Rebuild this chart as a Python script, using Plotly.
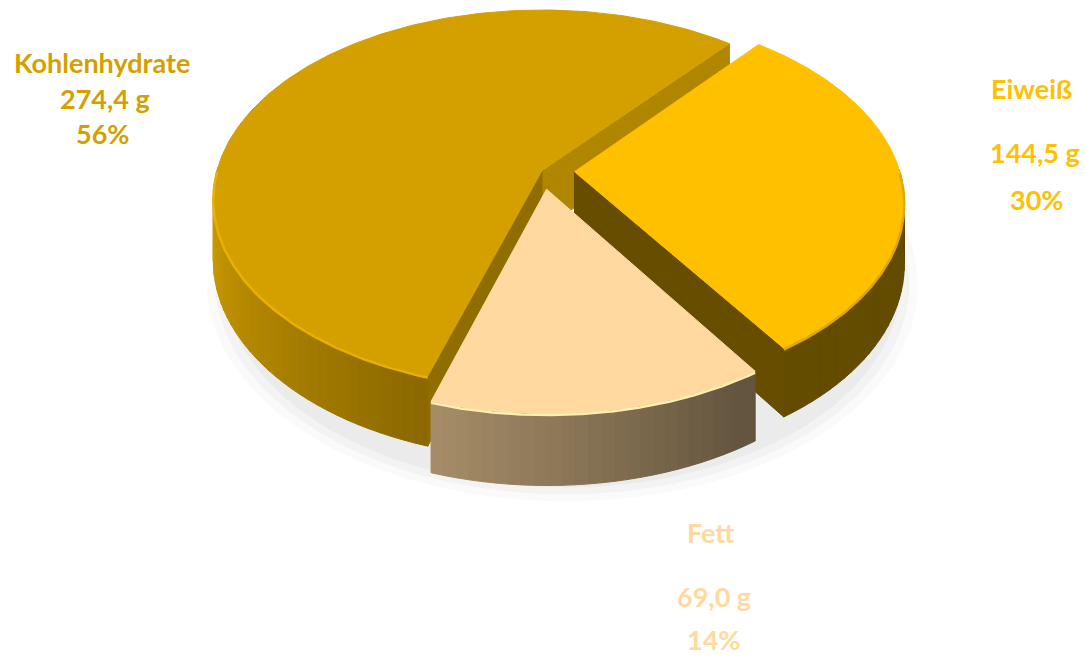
import numpy as np
import plotly.graph_objects as go

# ---------------- data ----------------
categories = ["Eiweiß", "Fett", "Kohlenhydrate"]
values = [144.5, 69.0, 274.4]
unit = "g"

# ---------------- style ----------------
top_rgb = {"Eiweiß": (255, 192, 0), "Fett": (255, 217, 160), "Kohlenhydrate": (212, 160, 0)}
label_color = {"Eiweiß": "#FFC000", "Fett": "#FFD9A0", "Kohlenhydrate": "#D4A000"}
explode = {"Eiweiß": 0.10, "Fett": 0.10, "Kohlenhydrate": 0.0}
radial_shade = {"Eiweiß": 0.40, "Fett": 0.60, "Kohlenhydrate": None}
rim_shade = {"Eiweiß": 0.88, "Fett": 1.10, "Kohlenhydrate": 1.10}

start_deg = 50.0
cx, cy = 542.0, 170.6
A, B = 184.7, 325.0      # vertical / horizontal radius in screen
k = 0.15                 # perspective strength
D = 60.0                 # thickness
W, H = 1086, 657


def proj(u, v, z):
    w = 1 + k * np.asarray(v)
    return cx + B * np.asarray(u) / w, cy - A * np.asarray(v) / w + D * z / w


def rgb(c, s=1.0):
    return "rgb(%d,%d,%d)" % tuple(int(max(0, min(255, round(x * s)))) for x in c)


def side_shade(phi_deg):
    t = ((phi_deg % 360) - 180) / 180.0
    t = min(max(t, 0.0), 1.0)
    return max(0.39, 1 - 0.95 * t ** 1.1)


total = sum(values)
slices = []
cum = 0.0
for name, val in zip(categories, values):
    a0 = start_deg - 360 * cum / total
    a1 = a0 - 360 * val / total
    cum += val
    mid = np.radians((a0 + a1) / 2)
    e = explode[name]
    slices.append(dict(name=name, val=val, a0=a0, a1=a1,
                       du=e * np.cos(mid), dv=e * np.sin(mid)))

side_faces = []   # (depth_key, xs, ys, color)
top_faces = []
rims = []

for s in slices:
    name, a0, a1, du, dv = s["name"], s["a0"], s["a1"], s["du"], s["dv"]
    col = top_rgb[name]
    # top face
    ang = np.radians(np.linspace(a0, a1, 200))
    u = np.concatenate([[du], du + np.cos(ang), [du]])
    v = np.concatenate([[dv], dv + np.sin(ang), [dv]])
    x, y = proj(u, v, 0)
    top_faces.append((x, y, rgb(col)))

    # front rim highlight
    fa = np.linspace(a1, a0, 300)
    fa = fa[np.sin(np.radians(fa)) < 0]
    if len(fa) > 1:
        rx, ry = proj(du + np.cos(np.radians(fa)), dv + np.sin(np.radians(fa)), 0.02)
        rims.append((rx, ry, rgb(col, rim_shade[name])))

    # curved side: small quads where facing the viewer
    step = 2.0
    n = max(2, int(np.ceil((a0 - a1) / step)))
    edges = np.linspace(a1, a0, n + 1)
    for p, q in zip(edges[:-1], edges[1:]):
        m = (p + q) / 2
        if np.sin(np.radians(m)) >= 0:
            continue
        aa = np.radians(np.linspace(p, q, 4))
        uu = du + np.cos(aa)
        vv = dv + np.sin(aa)
        xt, yt = proj(uu, vv, 0)
        xb, yb = proj(uu[::-1], vv[::-1], 1)
        xs = np.concatenate([xt, xb, xt[:1]])
        ys = np.concatenate([yt, yb, yt[:1]])
        c = rgb(col, side_shade(m))
        side_faces.append((np.mean(vv), xs, ys, c))

    # radial faces
    for theta, sign in ((a0, +1), (a1, -1)):
        nrm = np.radians(theta + sign * 90)
        if np.sin(nrm) >= 0:
            continue
        t = np.radians(theta)
        uu = np.array([du, du + np.cos(t)])
        vv = np.array([dv, dv + np.sin(t)])
        xt, yt = proj(uu, vv, 0)
        xb, yb = proj(uu[::-1], vv[::-1], 1)
        xs = np.concatenate([xt, xb, xt[:1]])
        ys = np.concatenate([yt, yb, yt[:1]])
        if radial_shade[name] is not None:
            sh = radial_shade[name]
        else:
            sh = 0.68 if sign > 0 else 0.83
        side_faces.append((np.mean(vv), xs, ys, rgb(col, sh)))

fig = go.Figure()

# soft shadow under the pie
for alpha, grow in [(0.04, 0.07), (0.05, 0.045), (0.06, 0.02)]:
    ang = np.radians(np.linspace(190, 370, 120))
    uu = (1 + grow) * np.cos(ang) + 0.06
    vv = (1 + grow) * np.sin(ang) - 0.06
    xs, ys = proj(uu, vv, 1.1)
    fig.add_trace(go.Scatter(x=np.concatenate([xs, xs[:1]]), y=np.concatenate([ys, ys[:1]]),
                             mode="lines", fill="toself", line=dict(width=0),
                             fillcolor="rgba(120,120,120,%.2f)" % alpha,
                             hoverinfo="skip", showlegend=False))

for key, xs, ys, c in sorted(side_faces, key=lambda f: -f[0]):
    fig.add_trace(go.Scatter(x=xs, y=ys, mode="lines", fill="toself",
                             fillcolor=c, line=dict(color=c, width=1),
                             hoverinfo="skip", showlegend=False))

for xs, ys, c in top_faces:
    fig.add_trace(go.Scatter(x=xs, y=ys, mode="lines", fill="toself",
                             fillcolor=c, line=dict(color=c, width=1),
                             hoverinfo="skip", showlegend=False))

for xs, ys, c in rims:
    fig.add_trace(go.Scatter(x=xs, y=ys, mode="lines", line=dict(color=c, width=2.5),
                             hoverinfo="skip", showlegend=False))

# labels
label_pos = {
    "Kohlenhydrate": [(102, 62), (105, 98), (102, 133)],
    "Eiweiß": [(1031, 88), (1035, 152), (1036, 199)],
    "Fett": [(710, 532), (714, 596), (713, 639)],
}


def fmt(vv):
    return ("%.1f" % vv).replace(".", ",")


annotations = []
for name, val in zip(categories, values):
    pct = round(100 * val / total)
    lines = [name, "%s %s" % (fmt(val), unit), "%d%%" % pct]
    for txt, (lx, ly) in zip(lines, label_pos[name]):
        annotations.append(dict(x=lx, y=ly, xref="x", yref="y", text=txt, showarrow=False,
                                xanchor="center", yanchor="middle", borderpad=0,
                                font=dict(family="Lato", size=27, color=label_color[name],
                                          weight=700)))

fig.update_layout(
    width=W, height=H,
    margin=dict(l=0, r=0, t=0, b=0),
    paper_bgcolor="white", plot_bgcolor="white",
    xaxis=dict(range=[0, W], visible=False, fixedrange=True),
    yaxis=dict(range=[H, 0], visible=False, fixedrange=True),
    annotations=annotations,
    showlegend=False,
)

fig.write_html("out.html")
